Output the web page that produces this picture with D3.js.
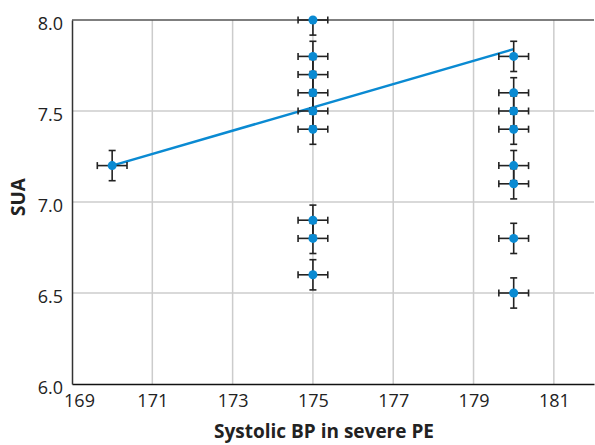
<!DOCTYPE html>
<html>
<head>
<meta charset="utf-8">
<script src="https://cdn.jsdelivr.net/npm/d3@7"></script>
<style>
  body { margin: 0; background: #fff; }
  text { font-family: "Open Sans", sans-serif; }
</style>
</head>
<body>
<div id="chart"></div>
<script>
const W = 595, H = 445
const MARGIN = {TOP: 20, RIGHT: 1, BOTTOM: 61, LEFT: 72}
const WIDTH = W - MARGIN.LEFT - MARGIN.RIGHT
const HEIGHT = H - MARGIN.TOP - MARGIN.BOTTOM

// data
const bpValues  = [170, 175, 175, 175, 175, 175, 175, 175, 175, 175, 180, 180, 180, 180, 180, 180, 180, 180]
const suaValues = [7.2, 8.0, 7.8, 7.7, 7.6, 7.5, 7.4, 6.9, 6.8, 6.6, 7.8, 7.6, 7.5, 7.4, 7.2, 7.1, 6.8, 6.5]
const xErr = 0.37
const yErr = 0.083
const fitX = [170, 180]
const fitY = [7.2, 7.84]
const xTicks = [169, 171, 173, 175, 177, 179, 181]
const yTicks = [6.0, 6.5, 7.0, 7.5, 8.0]

const svg = d3.select("#chart").append("svg")
  .attr("width", W)
  .attr("height", H)

const g = svg.append("g")
  .attr("transform", `translate(${MARGIN.LEFT}, ${MARGIN.TOP})`)

const x = d3.scaleLinear().domain([169, 182]).range([0, WIDTH])
const y = d3.scaleLinear().domain([6.0, 8.0]).range([HEIGHT, 0])

// grid
g.append("g").selectAll("line")
  .data(xTicks.slice(1))
  .enter().append("line")
    .attr("x1", d => x(d)).attr("x2", d => x(d))
    .attr("y1", 0).attr("y2", HEIGHT)
    .attr("stroke", "#cccccc").attr("stroke-width", 1.5)

g.append("g").selectAll("line")
  .data([6.5, 7.0, 7.5])
  .enter().append("line")
    .attr("x1", 0).attr("x2", WIDTH)
    .attr("y1", d => y(d)).attr("y2", d => y(d))
    .attr("stroke", "#cccccc").attr("stroke-width", 1.5)

// top frame line
g.append("line")
  .attr("x1", 0).attr("x2", WIDTH)
  .attr("y1", y(8.0)).attr("y2", y(8.0))
  .attr("stroke", "#555").attr("stroke-width", 1.5)

// axes
const xAxisCall = d3.axisBottom(x).tickValues(xTicks).tickSize(0).tickPadding(10)
const xAxis = g.append("g")
  .attr("transform", `translate(0, ${HEIGHT})`)
  .call(xAxisCall)
xAxis.select(".domain").attr("stroke", "#111").attr("stroke-width", 1.5)
xAxis.selectAll("text").attr("font-size", "18px").attr("fill", "#222")
  .attr("dx", d => d === 169 ? 7 : 0)

const yAxisCall = d3.axisLeft(y).tickValues(yTicks).tickSize(0).tickPadding(9)
  .tickFormat(d3.format(".1f"))
const yAxis = g.append("g").call(yAxisCall)
yAxis.select(".domain").attr("stroke", "#333").attr("stroke-width", 1.5)
yAxis.selectAll("text").attr("font-size", "18px").attr("fill", "#222").attr("dy", "0.52em")

// fit line
g.append("line")
  .attr("x1", x(fitX[0])).attr("y1", y(fitY[0]))
  .attr("x2", x(fitX[1])).attr("y2", y(fitY[1]))
  .attr("stroke", "#0a8ad2").attr("stroke-width", 2.5)

const pts = bpValues.map((b, i) => ({bp: b, sua: suaValues[i]}))

// error bars (vertical ones cut at the top of the plot)
const eb = g.append("g").attr("stroke", "#222").attr("stroke-width", 1.6)
const cap = 3.5
pts.forEach(d => {
  const cx = x(d.bp), cy = y(d.sua)
  const x0 = x(d.bp - xErr), x1 = x(d.bp + xErr)
  const y0 = y(d.sua - yErr), y1 = y(d.sua + yErr)
  eb.append("line").attr("x1", x0).attr("x2", x1).attr("y1", cy).attr("y2", cy)
  eb.append("line").attr("x1", x0).attr("x2", x0).attr("y1", cy - cap).attr("y2", cy + cap)
  eb.append("line").attr("x1", x1).attr("x2", x1).attr("y1", cy - cap).attr("y2", cy + cap)
  eb.append("line").attr("x1", cx).attr("x2", cx).attr("y1", y0).attr("y2", Math.max(y1, 0))
  eb.append("line").attr("x1", cx - cap).attr("x2", cx + cap).attr("y1", y0).attr("y2", y0)
  if (y1 >= 0) {
    eb.append("line").attr("x1", cx - cap).attr("x2", cx + cap).attr("y1", y1).attr("y2", y1)
  }
})

// points
g.selectAll("circle")
  .data(pts)
  .enter().append("circle")
    .attr("cx", d => x(d.bp))
    .attr("cy", d => y(d.sua))
    .attr("r", 4.5)
    .attr("fill", "#0a8ad2")

// labels
svg.append("text")
  .attr("x", 324)
  .attr("y", 438)
  .attr("text-anchor", "middle")
  .attr("font-size", "19px")
  .attr("font-weight", "bold")
  .attr("fill", "#222")
  .text("Systolic BP in severe PE")

svg.append("text")
  .attr("transform", "translate(25, 197) rotate(-90)")
  .attr("text-anchor", "middle")
  .attr("font-size", "19px")
  .attr("font-weight", "bold")
  .attr("fill", "#222")
  .text("SUA")
</script>
</body>
</html>
